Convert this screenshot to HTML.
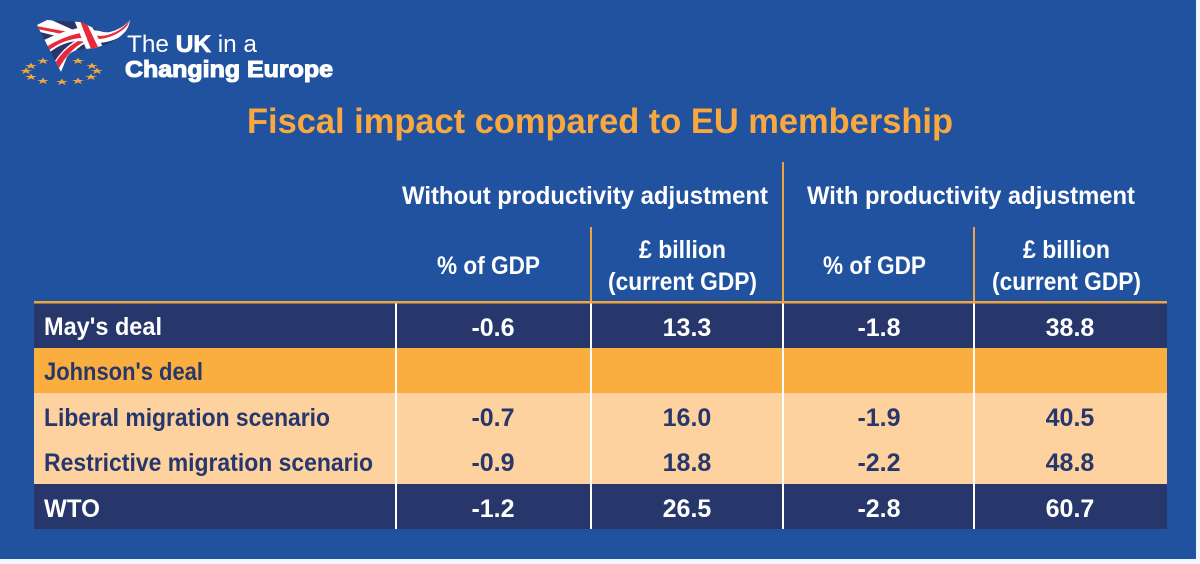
<!DOCTYPE html>
<html lang="en">
<head>
<meta charset="utf-8">
<title>Fiscal impact compared to EU membership</title>
<style>
html,body{margin:0;padding:0;width:1200px;height:564px;overflow:hidden;background:#eef6fb}
svg{display:block}
text{font-family:"Liberation Sans",sans-serif;font-weight:700}
.h{font-size:25px;fill:#fff}
.w{font-size:25px;fill:#fff}
.d{font-size:25px;fill:#27376b}
</style>
</head>
<body>
<svg width="1200" height="564" viewBox="0 0 1200 564">
  <defs>
    <clipPath id="flag-clip"><path d="M37 25 L47 20 L80 22 Q90 26 97 30 Q104 33 110 32 Q122 29 130 20 Q129 27 125 32 Q118 39 110 43 L95 48 Q85 49 77 50 Q70 52 67 57 L61 72 Z"/></clipPath>
    <polygon id="star-shape" points="0,-3.2 1.6,-1 6,-1 2.4,.4 3.7,3 0,1.3 -3.7,3 -2.4,.4 -6,-1 -1.6,-1"/>
  </defs>
  <rect x="0" y="0" width="1196" height="559" fill="#21529f"/>

  <g>
    <g clip-path="url(#flag-clip)">
      <rect x="30" y="15" width="105" height="62" fill="#27376b"/>
      <path d="M35 22 L47 18 L80 33 L72 40 L36 31Z" fill="#fff"/>
      <path d="M36 26 L74 33 L72 36 L37 29Z" fill="#e8293a"/>
      <path d="M52 66 Q62 47 82 37 L90 41 Q72 48 61 72Z" fill="#fff"/>
      <path d="M55 63 Q65 47 82 39 L84 42 Q70 49 59 68Z" fill="#e8293a"/>
      <path d="M42 41 Q60 32 78 28 L100 31 Q118 33 131 18 L128 32 Q115 42 98 43 L78 41 Q62 42 49 53Z" fill="#fff"/>
      <path d="M46 47 Q62 37 80 33 L100 36 Q118 35 130 20 L127 26 Q116 37 100 39 L80 38 Q62 40 48 51Z" fill="#e8293a"/>
      <path d="M74 20 L89 21 L103 47 L87 51Z" fill="#fff"/>
      <path d="M80 21 L86 22 L98 47 L91 49Z" fill="#e8293a"/>
    </g>
    <g fill="#f2a93b">
      <use href="#star-shape" x="43" y="61"/>
      <use href="#star-shape" x="78" y="61"/>
      <use href="#star-shape" x="92" y="66"/>
      <use href="#star-shape" x="97" y="71"/>
      <use href="#star-shape" x="91" y="77"/>
      <use href="#star-shape" x="78" y="81"/>
      <use href="#star-shape" x="62" y="82"/>
      <use href="#star-shape" x="43" y="81"/>
      <use href="#star-shape" x="31" y="77"/>
      <use href="#star-shape" x="26" y="71"/>
      <use href="#star-shape" x="31" y="66"/>
    </g>
    <text x="127" y="52" font-size="24" fill="#fff" textLength="130" lengthAdjust="spacingAndGlyphs" style="font-weight:400">The <tspan style="font-weight:700" stroke="#fff" stroke-width=".8">UK</tspan> in a</text>
    <text x="125" y="77" font-size="23" fill="#fff" stroke="#fff" stroke-width="1.1" textLength="208" lengthAdjust="spacingAndGlyphs">Changing Europe</text>
  </g>

  <text x="247" y="133" font-size="35" fill="#f9a83f" textLength="706" lengthAdjust="spacingAndGlyphs">Fiscal impact compared to EU membership</text>

  <g>
    <rect x="34" y="303" width="1133" height="45" fill="#27376b"/>
    <rect x="34" y="348" width="1133" height="45" fill="#fbae40"/>
    <rect x="34" y="393" width="1133" height="91" fill="#fdd29f"/>
    <rect x="34" y="484" width="1133" height="45" fill="#27376b"/>
  </g>

  <g fill="#fff">
    <rect x="395" y="303" width="2" height="226"/>
    <rect x="590" y="303" width="2" height="226"/>
    <rect x="782" y="303" width="2" height="226"/>
    <rect x="973" y="303" width="2" height="226"/>
  </g>

  <g fill="#eda541">
    <rect x="34" y="301" width="1133" height="2.5"/>
    <rect x="782" y="162" width="2" height="140"/>
    <rect x="590" y="227" width="2" height="75"/>
    <rect x="973" y="227" width="2" height="75"/>
  </g>

  <g>
    <text class="h" x="402" y="204" textLength="366" lengthAdjust="spacingAndGlyphs">Without productivity adjustment</text>
    <text class="h" x="807" y="204" textLength="328" lengthAdjust="spacingAndGlyphs">With productivity adjustment</text>
    <text class="h" x="437" y="274" textLength="103" lengthAdjust="spacingAndGlyphs">% of GDP</text>
    <text class="h" x="639" y="258" textLength="87" lengthAdjust="spacingAndGlyphs">£ billion</text>
    <text class="h" x="608" y="290" textLength="149" lengthAdjust="spacingAndGlyphs">(current GDP)</text>
    <text class="h" x="823" y="274" textLength="103" lengthAdjust="spacingAndGlyphs">% of GDP</text>
    <text class="h" x="1023" y="258" textLength="87" lengthAdjust="spacingAndGlyphs">£ billion</text>
    <text class="h" x="992" y="290" textLength="149" lengthAdjust="spacingAndGlyphs">(current GDP)</text>
  </g>

  <g>
    <text class="w" x="44" y="335" textLength="118" lengthAdjust="spacingAndGlyphs">May's deal</text>
    <text class="d" x="44" y="380" textLength="159" lengthAdjust="spacingAndGlyphs">Johnson's deal</text>
    <text class="d" x="44" y="426" textLength="286" lengthAdjust="spacingAndGlyphs">Liberal migration scenario</text>
    <text class="d" x="44" y="471" textLength="329" lengthAdjust="spacingAndGlyphs">Restrictive migration scenario</text>
    <text class="w" x="44" y="517" textLength="56" lengthAdjust="spacingAndGlyphs">WTO</text>
  </g>

  <g text-anchor="middle">
    <text class="w" x="493" y="336">-0.6</text>
    <text class="w" x="687" y="336">13.3</text>
    <text class="w" x="879" y="336">-1.8</text>
    <text class="w" x="1070" y="336">38.8</text>

    <text class="d" x="493" y="426">-0.7</text>
    <text class="d" x="687" y="426">16.0</text>
    <text class="d" x="879" y="426">-1.9</text>
    <text class="d" x="1070" y="426">40.5</text>

    <text class="d" x="493" y="471">-0.9</text>
    <text class="d" x="687" y="471">18.8</text>
    <text class="d" x="879" y="471">-2.2</text>
    <text class="d" x="1070" y="471">48.8</text>

    <text class="w" x="493" y="517">-1.2</text>
    <text class="w" x="687" y="517">26.5</text>
    <text class="w" x="879" y="517">-2.8</text>
    <text class="w" x="1070" y="517">60.7</text>
  </g>
</svg>
</body>
</html>
